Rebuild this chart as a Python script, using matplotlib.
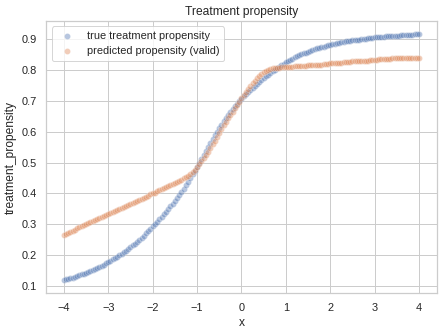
import numpy as np
import pandas as pd
import matplotlib
matplotlib.use('Agg')
import matplotlib.pyplot as plt
import seaborn as sns

# x grid, step 0.05 from -4 to 4
x_vals = [round(-4.0 + 0.05 * i, 2) for i in range(161)]

# true treatment propensity (blue)
true_prop = [
    0.120, 0.122, 0.124, 0.126, 0.128, 0.130, 0.132, 0.135, 0.138, 0.141,
    0.144, 0.147, 0.150, 0.153, 0.156, 0.159, 0.163, 0.166, 0.170, 0.174,
    0.178, 0.182, 0.187, 0.191, 0.196, 0.200, 0.205, 0.210, 0.215, 0.220,
    0.226, 0.232, 0.238, 0.244, 0.251, 0.257, 0.264, 0.271, 0.279, 0.286,
    0.294, 0.301, 0.309, 0.317, 0.325, 0.333, 0.341, 0.349, 0.358, 0.367,
    0.376, 0.385, 0.395, 0.405, 0.416, 0.427, 0.438, 0.450, 0.462, 0.474,
    0.487, 0.500, 0.513, 0.525, 0.538, 0.550, 0.563, 0.575, 0.588, 0.600,
    0.611, 0.622, 0.633, 0.644, 0.654, 0.664, 0.673, 0.682, 0.690, 0.698,
    0.706, 0.714, 0.721, 0.728, 0.735, 0.742, 0.748, 0.755, 0.761, 0.767,
    0.773, 0.779, 0.784, 0.790, 0.795, 0.800, 0.805, 0.810, 0.815, 0.820,
    0.824, 0.828, 0.832, 0.836, 0.840, 0.844, 0.847, 0.850, 0.853, 0.856,
    0.859, 0.862, 0.864, 0.867, 0.869, 0.871, 0.873, 0.875, 0.877, 0.879,
    0.881, 0.883, 0.884, 0.886, 0.887, 0.889, 0.890, 0.892, 0.893, 0.894,
    0.895, 0.896, 0.897, 0.898, 0.899, 0.900, 0.901, 0.902, 0.903, 0.904,
    0.905, 0.905, 0.906, 0.907, 0.907, 0.908, 0.909, 0.909, 0.910, 0.910,
    0.911, 0.911, 0.912, 0.912, 0.913, 0.913, 0.914, 0.914, 0.915, 0.915,
    0.916,
]

# predicted propensity on the validation set (orange)
pred_prop = [
    0.267, 0.270, 0.273, 0.277, 0.280, 0.283, 0.287, 0.290, 0.294, 0.297,
    0.300, 0.304, 0.307, 0.310, 0.314, 0.317, 0.320, 0.324, 0.327, 0.330,
    0.334, 0.337, 0.340, 0.344, 0.347, 0.350, 0.353, 0.357, 0.360, 0.363,
    0.367, 0.370, 0.373, 0.377, 0.380, 0.383, 0.387, 0.390, 0.393, 0.397,
    0.400, 0.403, 0.407, 0.410, 0.414, 0.417, 0.421, 0.424, 0.428, 0.431,
    0.434, 0.438, 0.441, 0.445, 0.449, 0.453, 0.458, 0.464, 0.470, 0.477,
    0.486, 0.495, 0.504, 0.514, 0.524, 0.535, 0.547, 0.559, 0.571, 0.583,
    0.596, 0.608, 0.620, 0.632, 0.643, 0.654, 0.665, 0.676, 0.687, 0.697,
    0.708, 0.718, 0.728, 0.738, 0.747, 0.756, 0.765, 0.773, 0.781, 0.787,
    0.793, 0.797, 0.801, 0.803, 0.805, 0.806, 0.807, 0.807, 0.808, 0.808,
    0.809, 0.809, 0.810, 0.810, 0.811, 0.811, 0.812, 0.812, 0.813, 0.813,
    0.814, 0.814, 0.815, 0.815, 0.816, 0.816, 0.817, 0.818, 0.819, 0.820,
    0.821, 0.821, 0.822, 0.822, 0.823, 0.823, 0.824, 0.824, 0.825, 0.826,
    0.827, 0.827, 0.828, 0.828, 0.829, 0.829, 0.830, 0.830, 0.831, 0.832,
    0.833, 0.833, 0.834, 0.834, 0.835, 0.835, 0.836, 0.836, 0.837, 0.837,
    0.838, 0.838, 0.838, 0.838, 0.839, 0.839, 0.839, 0.839, 0.839, 0.839,
    0.839,
]

sns.set_theme(style='whitegrid')
plt.rcParams['font.family'] = ['Liberation Sans', 'DejaVu Sans']

df = pd.DataFrame({'x': x_vals, 'true': true_prop, 'pred': pred_prop})

fig = plt.figure(figsize=(443 / 72, 333 / 72), dpi=72)
ax = fig.add_axes([0.104, 0.12, 0.882, 0.817])

sns.scatterplot(data=df, x='x', y='true', alpha=0.4, ax=ax,
                label='true treatment propensity')
sns.scatterplot(data=df, x='x', y='pred', alpha=0.4, ax=ax,
                label='predicted propensity (valid)')

ax.set_title('Treatment propensity')
ax.set_xlabel('x')
ax.set_ylabel('treatment_propensity')
ax.set_xticks(np.arange(-4, 5, 1))
ax.set_yticks(np.arange(0.1, 0.95, 0.1))
ax.set_xlim(-4.4, 4.4)
ax.set_ylim(0.078, 0.958)
ax.legend(loc='upper left')

fig.savefig('out.png', dpi=72)
